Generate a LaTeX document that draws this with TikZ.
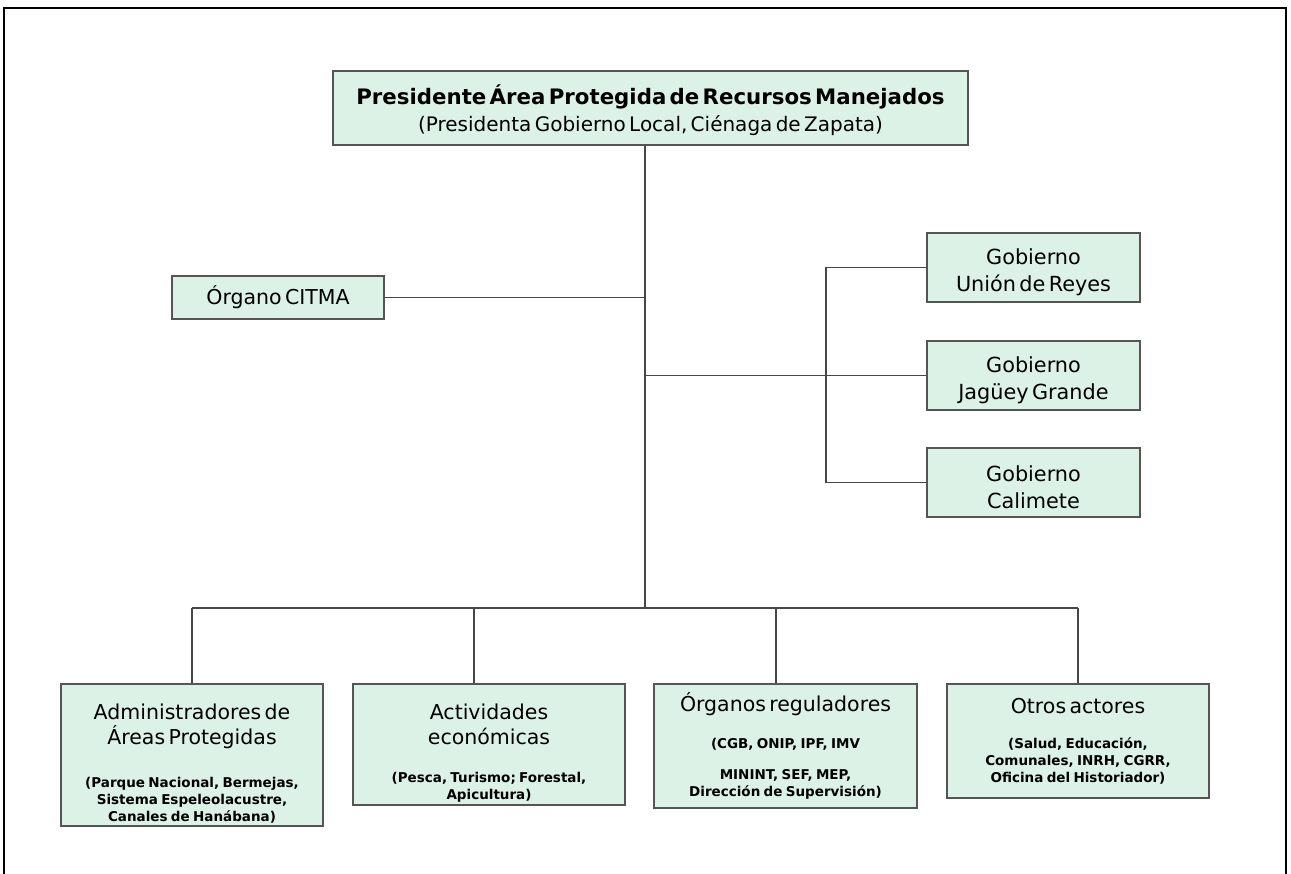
\documentclass[tikz,border=0pt]{standalone}
\usepackage{fontspec}
\setmainfont{DejaVu Sans}
\definecolor{boxfill}{RGB}{221,242,231}
\definecolor{boxline}{RGB}{85,85,85}
\definecolor{connline}{RGB}{70,70,70}
\newcommand\HeadFont{\fontsize{20.5}{25}\selectfont}
\newcommand\GobFont{\fontsize{20.8}{27}\selectfont}
\newcommand\SmallFont{\fontsize{13.5}{17}\selectfont\bfseries}
\begin{document}
\begin{tikzpicture}[x=1pt,y=-1pt,
  box/.style={draw=boxline, fill=boxfill, line width=1.4pt, inner sep=0pt,
    align=center, text=black, text width=#1},
  box/.default=200pt,
  conn/.style={draw=connline, line width=1.3pt}]
\useasboundingbox (0,0) rectangle (1291,874);
% frame
\draw[line width=2pt] (4,874) -- (4,8) -- (1286,8) -- (1286,874);

% top
\node[box=630pt, minimum width=635pt, minimum height=74pt] (top) at (650.5,108)
  {{\fontsize{21.3}{27}\selectfont\bfseries \rule{0pt}{24pt}Presidente Área Protegida de Recursos Manejados\\}%
   {\fontsize{20}{27}\selectfont (Presidenta Gobierno Local, Ciénaga de Zapata)\par}};

% CITMA
\node[box=210pt, minimum width=212pt, minimum height=43pt] (citma) at (278,297.5)
  {\HeadFont Órgano CITMA\par};

% gobiernos
\node[box=210pt, minimum width=213pt, minimum height=69pt] (gob1) at (1033.5,267.5)
  {\GobFont \rule{0pt}{26pt}Gobierno\\Unión de Reyes\par};
\node[box=210pt, minimum width=213pt, minimum height=69pt] (gob2) at (1033.5,375.5)
  {\GobFont \rule{0pt}{26pt}Gobierno\\Jagüey Grande\par};
\node[box=210pt, minimum width=213pt, minimum height=69pt] (gob3) at (1033.5,482.5)
  {\GobFont \rule{0pt}{26pt}Gobierno\\Calimete\par};

% bottom boxes
\node[box=258pt, minimum width=262pt, minimum height=142pt] (b1) at (192,755)
  {{\HeadFont \rule{0pt}{32pt}Administradores de\\Áreas Protegidas\par}\vspace{26pt}%
   {\SmallFont (Parque Nacional, Bermejas,\\Sistema Espeleolacustre,\\Canales de Hanábana)\par}};
\node[box=268pt, minimum width=272pt, minimum height=121pt] (b2) at (489,744.5)
  {{\HeadFont \rule{0pt}{32pt}Actividades\\económicas\par}\vspace{21pt}%
   {\SmallFont (Pesca, Turismo; Forestal,\\Apicultura)\par}};
\node[box=259pt, minimum width=263pt, minimum height=124pt] (b3) at (785.5,746)
  {{\HeadFont Órganos reguladores\par}\vspace{20pt}%
   {\SmallFont (CGB, ONIP, IPF, IMV\\[14pt]MININT, SEF, MEP,\\Dirección de Supervisión)\par}};
\node[box=258pt, minimum width=262pt, minimum height=114pt] (b4) at (1078,741)
  {{\HeadFont Otros actores\par}\vspace{18pt}%
   {\SmallFont (Salud, Educación,\\Comunales, INRH, CGRR,\\Oficina del Historiador)\par}};

% connectors
\coordinate (bus) at (645,608);
\coordinate (rv) at (826,373);
\coordinate (d1) at (192,608);
\coordinate (d2) at (474,608);
\coordinate (d3) at (776,608);
\coordinate (d4) at (1078,608);
\draw[conn] (top.south -| bus) -- (bus);
\draw[conn] (citma.east) -- (citma.east -| bus);
\draw[conn] (bus |- gob2.west) -- (gob2.west);
\draw[conn] (gob1.west) -- (gob1.west -| rv) -- (gob3.west -| rv) -- (gob3.west);
\draw[conn] (d1) -- (d4);
\draw[conn] (d1) -- (d1 |- b1.north);
\draw[conn] (d2) -- (d2 |- b2.north);
\draw[conn] (d3) -- (d3 |- b3.north);
\draw[conn] (d4) -- (d4 |- b4.north);
\end{tikzpicture}
\end{document}
